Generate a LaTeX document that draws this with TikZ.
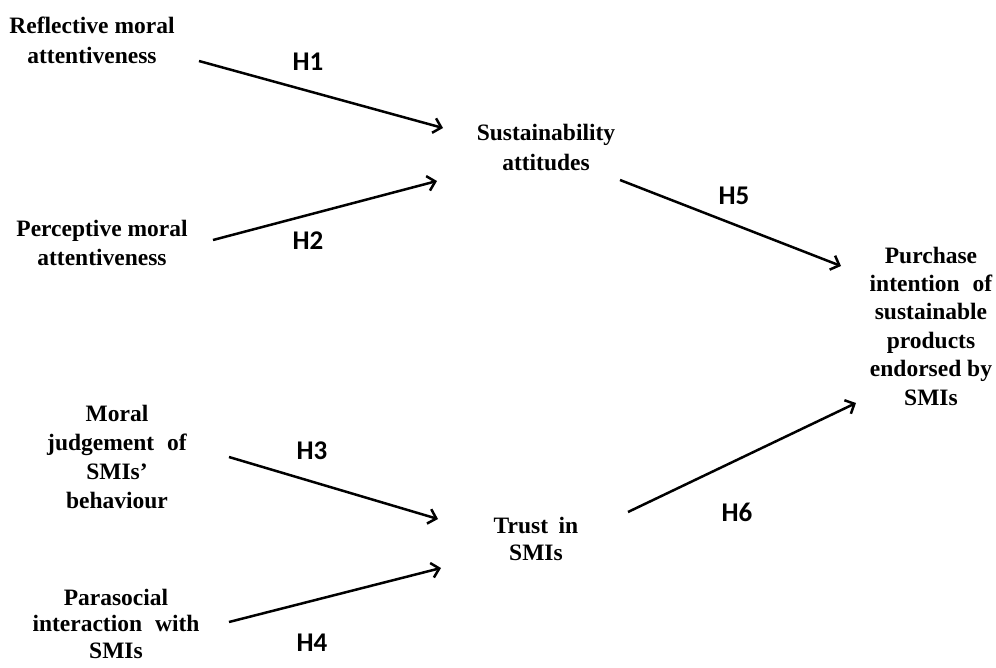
\documentclass[tikz,border=0pt]{standalone}
\usepackage{fontspec}
\setmainfont{Liberation Serif}
\newfontfamily\hfont{Carlito}
\usetikzlibrary{arrows.meta}
\begin{document}
\begin{tikzpicture}[x=1pt,y=-1pt,
  lbl/.style={font=\bfseries\fontsize{23.5}{#1}\selectfont, align=center, inner sep=0pt, anchor=base},
  lbl/.default=29,
  hyp/.style={font=\hfont\bfseries\fontsize{27}{30}\selectfont, inner sep=0pt},
  arr/.style={line width=2.5pt, -{Straight Barb[length=7.5pt,width=15pt]}}]
\useasboundingbox (0,0) rectangle (996,667);
% concepts (anchored at the baseline of the last line)
\node[lbl=30] (rm) at (92,63) {Reflective moral\\attentiveness};
\node[lbl=29] (pm) at (102,265) {Perceptive moral\\attentiveness};
\node[lbl=30] (sa) at (546,170) {Sustainability\\attitudes};
\node[lbl=28.4] (pi) at (931,405) {Purchase\\intention\hspace{0.55em}of\\sustainable\\products\\endorsed by\\SMIs};
\node[lbl=29] (mj) at (117,508) {Moral\\judgement\hspace{0.55em}of\\SMIs’\\behaviour};
\node[lbl=26.5] (ps) at (116,658) {Parasocial\\interaction\hspace{0.55em}with\\SMIs};
\node[lbl=27] (tr) at (536,560) {Trust\hspace{0.2em} in\\SMIs};
% arrow end points
\coordinate (h1s) at (199,61);  \coordinate (h1e) at (443,128);
\coordinate (h2s) at (213,240); \coordinate (h2e) at (437,181);
\coordinate (h5s) at (620,180); \coordinate (h5e) at (841,266);
\coordinate (h6s) at (628,512); \coordinate (h6e) at (856,403);
\coordinate (h3s) at (229,457); \coordinate (h3e) at (438,519);
\coordinate (h4s) at (229,622); \coordinate (h4e) at (441,568);
\draw[arr] (h1s) -- (h1e);
\draw[arr] (h2s) -- (h2e);
\draw[arr] (h5s) -- (h5e);
\draw[arr] (h6s) -- (h6e);
\draw[arr] (h3s) -- (h3e);
\draw[arr] (h4s) -- (h4e);
% hypothesis labels
\node[hyp] (l1) at (308,62) {H1};
\node[hyp] (l2) at (308,241) {H2};
\node[hyp] (l5) at (734,196) {H5};
\node[hyp] (l6) at (737,512) {H6};
\node[hyp] (l3) at (312,451) {H3};
\node[hyp] (l4) at (312,643) {H4};
\end{tikzpicture}
\end{document}
